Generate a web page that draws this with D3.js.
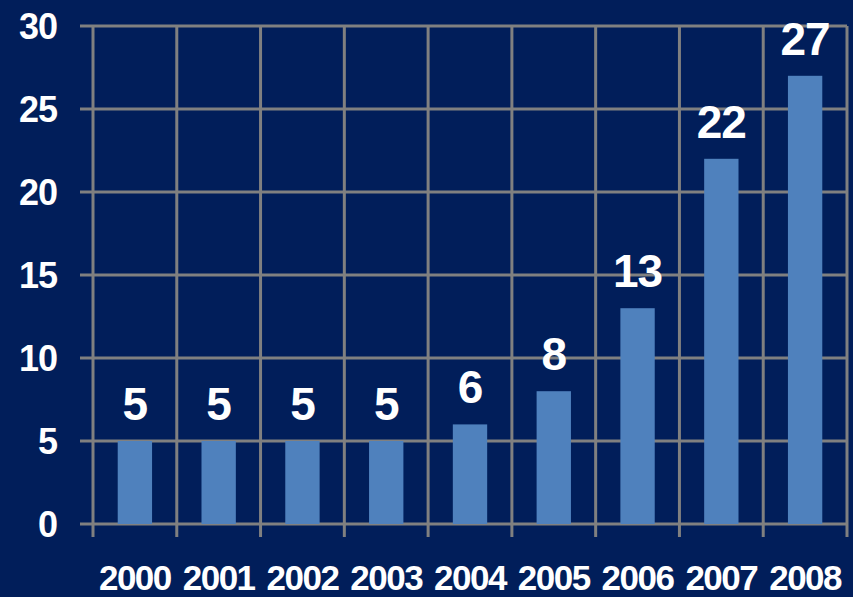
<!DOCTYPE html>
<html>
<head>
<meta charset="utf-8">
<script src="https://cdn.jsdelivr.net/npm/d3@7"></script>
<style>
  body { margin: 0; background: #011e5a; }
  text { font-family: "Liberation Sans", Arial, sans-serif; font-weight: bold; fill: #fff; }
</style>
</head>
<body>
<script>
// datos
var anios = ["2000", "2001", "2002", "2003", "2004", "2005", "2006", "2007", "2008"]
var valores = [5, 5, 5, 5, 6, 8, 13, 22, 27]
var ticksY = [0, 5, 10, 15, 20, 25, 30]

var ancho = 853, alto = 597
var izq = 93, der = 847, arriba = 26, abajo = 524

var svg = d3.select("body").append("svg")
    .attr("width", ancho)
    .attr("height", alto)

svg.append("rect")
    .attr("width", ancho).attr("height", alto)
    .attr("fill", "#011e5a")

var x = d3.scaleBand()
    .domain(anios)
    .range([izq, der])
    .padding(0)

var y = d3.scaleLinear()
    .domain([0, 30])
    .range([abajo, arriba])

var gris = "#808080"

// lineas horizontales de la rejilla
svg.append("g").selectAll("line")
    .data(ticksY)
    .enter().append("line")
    .attr("x1", izq - 13).attr("x2", der)
    .attr("y1", d => y(d)).attr("y2", d => y(d))
    .attr("stroke", gris).attr("stroke-width", 3)

// lineas verticales (limites de cada categoria)
var bordes = anios.map(a => x(a)).concat([der])
svg.append("g").selectAll("line")
    .data(bordes)
    .enter().append("line")
    .attr("x1", d => d).attr("x2", d => d)
    .attr("y1", arriba).attr("y2", abajo + 13)
    .attr("stroke", gris).attr("stroke-width", 3)

// barras
var anchoBarra = x.bandwidth() * 0.41
svg.append("g").selectAll("rect")
    .data(valores)
    .enter().append("rect")
    .attr("x", (d, i) => x(anios[i]) + x.bandwidth() / 2 - anchoBarra / 2)
    .attr("y", d => y(d))
    .attr("width", anchoBarra)
    .attr("height", d => y(0) - y(d))
    .attr("fill", "#4f81bd")

// etiquetas de valor
svg.append("g").selectAll("text")
    .data(valores)
    .enter().append("text")
    .attr("x", (d, i) => x(anios[i]) + x.bandwidth() / 2)
    .attr("y", d => y(d) - 21)
    .attr("text-anchor", "middle")
    .attr("font-size", 46)
    .attr("letter-spacing", -1)
    .text(d => d)

// eje y
svg.append("g").selectAll("text")
    .data(ticksY)
    .enter().append("text")
    .attr("x", 57)
    .attr("y", d => y(d))
    .attr("dy", "0.36em")
    .attr("text-anchor", "end")
    .attr("font-size", 36)
    .attr("letter-spacing", -1)
    .text(d => d)

// eje x
svg.append("g").selectAll("text")
    .data(anios)
    .enter().append("text")
    .attr("x", d => x(d) + x.bandwidth() / 2)
    .attr("y", 590)
    .attr("text-anchor", "middle")
    .attr("font-size", 35)
    .attr("letter-spacing", -1.5)
    .text(d => d)
</script>
</body>
</html>
